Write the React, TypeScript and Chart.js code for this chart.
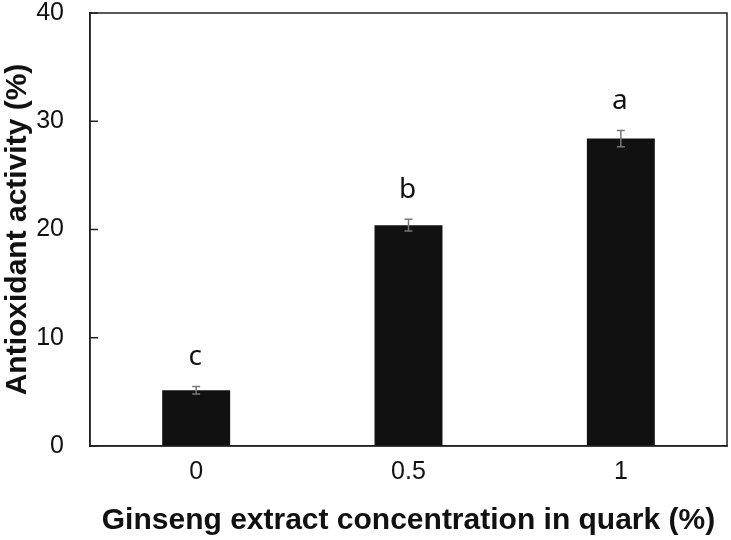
import React, { useEffect, useRef } from "react";
import { Chart, registerables } from "chart.js";

Chart.register(...registerables);

const categories = ["0", "0.5", "1"];
const values = [5.15, 20.4, 28.4];
const errors = [0.35, 0.55, 0.75];
const letters = ["c", "b", "a"];
const yTicks = [0, 10, 20, 30, 40];

const overlayPlugin = {
  id: "overlay",
  afterDatasetsDraw(chart: any) {
    const ctx = chart.ctx;
    const area = chart.chartArea;
    const x = chart.scales.x;
    const y = chart.scales.y;
    ctx.save();
    ctx.strokeStyle = "#222";
    ctx.lineWidth = 1.5;
    ctx.strokeRect(area.left, area.top, area.right - area.left, area.bottom - area.top);
    yTicks.forEach((t) => {
      const py = y.getPixelForValue(t);
      ctx.beginPath();
      ctx.moveTo(area.left, py);
      ctx.lineTo(area.left + 8, py);
      ctx.stroke();
    });
    categories.forEach((c, i) => {
      const px = x.getPixelForValue(i);
      const top = y.getPixelForValue(values[i] + errors[i]);
      const bot = y.getPixelForValue(values[i] - errors[i]);
      ctx.strokeStyle = "#777";
      ctx.lineWidth = 1.5;
      ctx.beginPath();
      ctx.moveTo(px, top);
      ctx.lineTo(px, bot);
      ctx.moveTo(px - 4, top);
      ctx.lineTo(px + 4, top);
      ctx.moveTo(px - 4, bot);
      ctx.lineTo(px + 4, bot);
      ctx.stroke();
      ctx.fillStyle = "#111";
      ctx.font = "28px 'Noto Sans', 'DejaVu Sans', sans-serif";
      ctx.textAlign = "center";
      ctx.textBaseline = "alphabetic";
      ctx.fillText(letters[i], px - 1, top - 21);
    });
    ctx.restore();
  },
};

export default function App() {
  const ref = useRef<HTMLCanvasElement | null>(null);
  useEffect(() => {
    document.body.style.margin = "0";
    const chart = new Chart(ref.current as HTMLCanvasElement, {
      type: "bar",
      data: {
        labels: categories,
        datasets: [
          {
            data: values,
            backgroundColor: "#111111",
            borderWidth: 0,
            barPercentage: 0.32,
            categoryPercentage: 1,
          },
        ],
      },
      options: {
        animation: false,
        responsive: false,
        layout: { padding: { top: 13, right: 4, left: 0, bottom: 0 } },
        plugins: { legend: { display: false }, tooltip: { enabled: false } },
        scales: {
          x: {
            grid: { display: false, drawTicks: false },
            border: { display: true, color: "#222", width: 1.5 },
            ticks: {
              color: "#111",
              padding: 11,
              font: { family: "'Liberation Sans', Arial, sans-serif", size: 25 },
            },
            title: {
              display: true,
              text: "Ginseng extract concentration in quark (%)",
              color: "#111",
              font: { family: "'Liberation Sans', Arial, sans-serif", size: 30, weight: "bold" },
              padding: { top: 0, bottom: 1 },
            },
            afterFit(scale: any) {
              scale.height = 94;
              scale.paddingLeft = 0;
              scale.paddingRight = 0;
            },
          },
          y: {
            min: 0,
            max: 40,
            grid: { display: false, drawTicks: false },
            border: { display: true, color: "#222", width: 1.5 },
            ticks: {
              stepSize: 10,
              color: "#111",
              padding: 26,
              font: { family: "'Liberation Sans', Arial, sans-serif", size: 25 },
            },
            title: {
              display: true,
              text: "Antioxidant activity (%)",
              color: "#111",
              font: { family: "'Liberation Sans', Arial, sans-serif", size: 30, weight: "bold" },
              padding: { top: 0, bottom: 0 },
            },
            afterFit(scale: any) {
              scale.width = 90;
              scale.paddingTop = 0;
              scale.paddingBottom = 0;
            },
          },
        },
      },
      plugins: [overlayPlugin],
    });
    return () => chart.destroy();
  }, []);
  return (
    <div style={{ position: "absolute", left: 0, top: 0, width: 731, height: 540, background: "#fff" }}>
      <canvas ref={ref} width={731} height={540} style={{ width: 731, height: 540 }} />
    </div>
  );
}
